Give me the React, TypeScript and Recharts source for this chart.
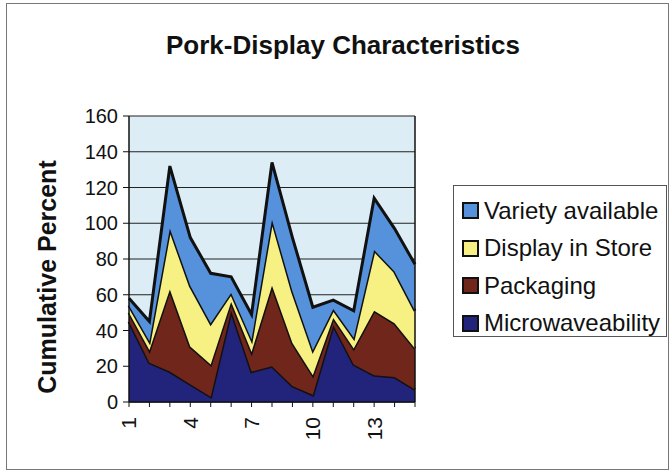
import React from "react";
import { AreaChart, Area, XAxis, YAxis, CartesianGrid, ReferenceLine } from "recharts";

const categories = ["1", "2", "3", "4", "5", "6", "7", "8", "9", "10", "11", "12", "13", "14", "15"];
const microwaveability = [45, 22, 17, 10, 3, 51, 17, 20, 9, 4, 43, 21, 15, 14, 7];
const packaging = [5, 7, 46, 21, 18, 5, 11, 45, 24, 11, 4, 9, 36, 30, 23];
const displayInStore = [4, 5, 34, 34, 23, 5, 7, 37, 29, 14, 5, 6, 34, 29, 21];
const varietyAvailable = [4, 11, 35, 27, 28, 9, 14, 32, 30, 24, 5, 15, 29, 24, 26];
const yTicks = [0, 20, 40, 60, 80, 100, 120, 140, 160];

const series = [
  { key: "micro", name: "Microwaveability", color: "#22237a" },
  { key: "pack", name: "Packaging", color: "#71261b" },
  { key: "disp", name: "Display in Store", color: "#f7f184" },
  { key: "variety", name: "Variety available", color: "#5592db" },
];

const data = categories.map((c, i) => ({
  cat: c,
  micro: microwaveability[i],
  pack: packaging[i],
  disp: displayInStore[i],
  variety: varietyAvailable[i],
}));

const FONT = "'Liberation Sans', Arial, sans-serif";

// only every third category gets a label, but every category keeps its tick mark
function XTick(props: any) {
  const { x, y, payload, index } = props;
  if (index % 3 !== 0) return <g />;
  return (
    <text
      x={x}
      y={y}
      dy="0.355em"
      transform={`rotate(-90, ${x}, ${y})`}
      textAnchor="end"
      fontSize={21}
      fontFamily={FONT}
      fill="#111"
    >
      {payload.value}
    </text>
  );
}

function YLabel() {
  return (
    <text
      x={47}
      y={277}
      transform="rotate(-90, 47, 277)"
      textAnchor="middle"
      dominantBaseline="central"
      fontSize={25}
      fontWeight="bold"
      fontFamily={FONT}
      fill="#111"
    >
      Cumulative Percent
    </text>
  );
}

export default function App() {
  return (
    <div style={{ position: "absolute", left: 0, top: 0, width: 671, height: 471, background: "#fff", fontFamily: FONT }}>
      <div
        style={{
          position: "absolute",
          left: 6,
          top: 3,
          width: 661,
          height: 465,
          border: "1px solid #777",
        }}
      />
      <div
        style={{
          position: "absolute",
          left: 0,
          width: 686,
          top: 30,
          textAlign: "center",
          fontSize: 26,
          fontWeight: "bold",
          color: "#111",
        }}
      >
        Pork-Display Characteristics
      </div>
      <div style={{ position: "absolute", left: 0, top: 0 }}>
        <AreaChart width={671} height={471} data={data} margin={{ top: 116, right: 256, bottom: 19, left: 69 }}>
          <CartesianGrid vertical={false} stroke="#222" strokeWidth={1.2} fill="#dcedf6" />
          <XAxis
            dataKey="cat"
            interval={0}
            tick={<XTick />}
            tickSize={5}
            tickMargin={10}
            height={50}
            axisLine={{ stroke: "#111", strokeWidth: 1.5 }}
            tickLine={{ stroke: "#111" }}
          />
          <YAxis
            domain={[0, 160]}
            ticks={yTicks}
            width={60}
            tickSize={6}
            tickMargin={5}
            tick={{ fontSize: 20, fill: "#111", fontFamily: FONT }}
            axisLine={{ stroke: "#111", strokeWidth: 1.5 }}
            tickLine={{ stroke: "#111" }}
            label={<YLabel />}
          />
          {series.map((s) => (
            <Area
              key={s.key}
              type="linear"
              dataKey={s.key}
              name={s.name}
              stackId="a"
              stroke="#111"
              strokeWidth={3}
              fill={s.color}
              fillOpacity={1}
              isAnimationActive={false}
            />
          ))}
          <ReferenceLine x="15" stroke="#111" strokeWidth={1.5} />
        </AreaChart>
      </div>
      <div
        style={{
          position: "absolute",
          left: 453,
          top: 185,
          width: 214,
          height: 152,
          border: "1px solid #555",
          boxSizing: "border-box",
          paddingTop: 6,
        }}
      >
        {[...series].reverse().map((s) => (
          <div key={s.key} style={{ display: "flex", alignItems: "center", height: 37.5 }}>
            <div
              style={{
                width: 13,
                height: 13,
                marginLeft: 8,
                marginRight: 5,
                background: s.color,
                border: "2px solid #111",
              }}
            />
            <span style={{ fontSize: 24, color: "#111", whiteSpace: "nowrap" }}>{s.name}</span>
          </div>
        ))}
      </div>
    </div>
  );
}
